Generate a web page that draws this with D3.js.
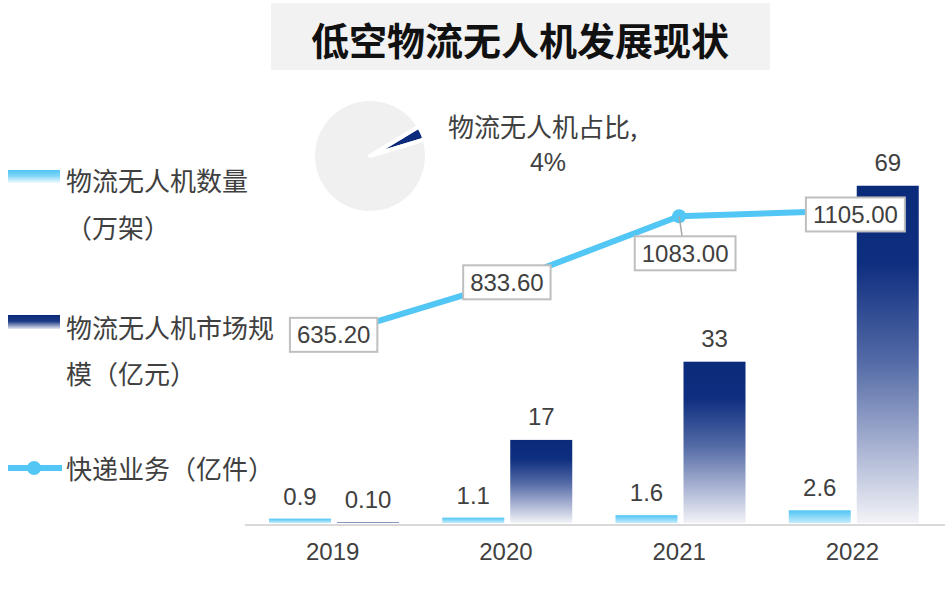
<!DOCTYPE html>
<html><head><meta charset="utf-8">
<script src="https://cdn.jsdelivr.net/npm/d3@7"></script>
<style>
body{margin:0;background:#fff;}
svg{display:block;}
</style></head>
<body>
<svg id="c" width="949" height="612"></svg>
<script>
const years = ["2019","2020","2021","2022"];
const droneCount = [0.9, 1.1, 1.6, 2.6];          // 万架
const marketSize = [0.10, 17, 33, 69];             // 亿元
const marketLabels = ["0.10","17","33","69"];
const countLabels = ["0.9","1.1","1.6","2.6"];
const express = [635.20, 833.60, 1083.00, 1105.00]; // 亿件
const expressLabels = ["635.20","833.60","1083.00","1105.00"];
const pieShare = [4, 96];
const title = "低空物流无人机发展现状";
const legendItems = [["物流无人机数量","（万架）"],["物流无人机市场规","模（亿元）"],["快递业务（亿件）"]];
const pieLabel = ["物流无人机占比,","4%"];

const svg = d3.select("#c");
const CJK = "'Noto Sans CJK SC','Noto Sans',sans-serif";
const NUM = "'Liberation Sans',Arial,sans-serif";
const txt = "#404040";
const lineColor = "#52c6f5";

const defs = svg.append("defs");
const gDark = defs.append("linearGradient").attr("id","gDark").attr("x1",0).attr("y1",0).attr("x2",0).attr("y2",1);
[[0,"#0a2a7a"],[0.23,"#0e2e7f"],[0.52,"#536aa6"],[0.76,"#a3aecf"],[1,"#f2f3f8"]].forEach(s=>gDark.append("stop").attr("offset",s[0]).attr("stop-color",s[1]));
const gLight = defs.append("linearGradient").attr("id","gLight").attr("x1",0).attr("y1",0).attr("x2",0).attr("y2",1);
[[0,"#4fc4f4"],[1,"#c5ecfc"]].forEach(s=>gLight.append("stop").attr("offset",s[0]).attr("stop-color",s[1]));
const gLightLeg = defs.append("linearGradient").attr("id","gLightLeg").attr("x1",0).attr("y1",0).attr("x2",0).attr("y2",1);
[[0,"#4fc4f4"],[0.45,"#7fd5f8"],[1,"#f3fbfe"]].forEach(s=>gLightLeg.append("stop").attr("offset",s[0]).attr("stop-color",s[1]));
const gDarkLeg = defs.append("linearGradient").attr("id","gDarkLeg").attr("x1",0).attr("y1",0).attr("x2",0).attr("y2",1);
[[0,"#0a2a7a"],[0.45,"#1d3a86"],[1,"#e6e9f3"]].forEach(s=>gDarkLeg.append("stop").attr("offset",s[0]).attr("stop-color",s[1]));

// Title
svg.append("rect").attr("x",271).attr("y",3).attr("width",499).attr("height",67).attr("fill","#f2f2f2");
svg.append("text").attr("x",520).attr("y",38).attr("text-anchor","middle").attr("dominant-baseline","central")
  .attr("font-family",CJK).attr("font-weight","bold").attr("font-size",38).attr("fill","#111").text(title);

// Pie
const pieG = svg.append("g").attr("transform","translate(370,156)");
const share = 0.04*2*Math.PI;
const start = 66*Math.PI/180 - share/2;
const pie = d3.pie().sort(null).startAngle(start).endAngle(start+2*Math.PI);
const arc = d3.arc().innerRadius(0).outerRadius(57);
pieG.selectAll("path").data(pie(pieShare)).join("path").attr("d",arc)
  .attr("fill",(d,i)=>i===0?"#0d2b7c":"#f0f0f0").attr("stroke","#fff").attr("stroke-width",4).attr("stroke-linejoin","round");
svg.append("text").attr("x",448).attr("y",125).attr("dominant-baseline","central").attr("font-family",CJK).attr("font-size",26).attr("fill",txt).text(pieLabel[0]);
svg.append("text").attr("x",548).attr("y",162).attr("text-anchor","middle").attr("dominant-baseline","central").attr("font-family",NUM).attr("font-size",25).attr("fill",txt).text(pieLabel[1]);

// Scales
const x = d3.scaleBand().domain(years).range([246,939]);
const xs = d3.scaleBand().domain(["count","market"]).range([23,153]).paddingInner(0.088).paddingOuter(0);
const y = d3.scaleLinear().domain([0,107]).range([523,0]);
const y2 = d3.scaleLinear().domain([0,1900]).range([503,0]);

// Axis
const axis = svg.append("g").attr("transform","translate(0,525)").call(d3.axisBottom(x).tickSize(0).tickPadding(18));
axis.select(".domain").attr("stroke","#d9d9d9").attr("stroke-width",2).attr("d","M245,0H945");
axis.selectAll("text").attr("font-family",NUM).attr("font-size",24).attr("fill",txt);

// Bars
const barsG = svg.append("g");
barsG.selectAll(".bc").data(years).join("rect").attr("class","bc")
  .attr("x",d=>x(d)+xs("count")).attr("width",xs.bandwidth())
  .attr("y",(d,i)=>y(droneCount[i])).attr("height",(d,i)=>y(0)-y(droneCount[i])).attr("fill","url(#gLight)");
barsG.selectAll(".bm").data(years).join("rect").attr("class","bm")
  .attr("x",d=>x(d)+xs("market")).attr("width",xs.bandwidth())
  .attr("y",(d,i)=>y(marketSize[i])).attr("height",(d,i)=>y(0)-y(marketSize[i])).attr("fill","url(#gDark)");
barsG.selectAll(".lc").data(years).join("text").attr("class","lc")
  .attr("x",d=>x(d)+xs("count")+xs.bandwidth()/2).attr("y",(d,i)=>y(droneCount[i])-14)
  .attr("text-anchor","middle").attr("font-family",NUM).attr("font-size",24).attr("fill",txt).text((d,i)=>countLabels[i]);
barsG.selectAll(".lm").data(years).join("text").attr("class","lm")
  .attr("x",d=>x(d)+xs("market")+xs.bandwidth()/2).attr("y",(d,i)=>y(marketSize[i])-15)
  .attr("text-anchor","middle").attr("font-family",NUM).attr("font-size",24).attr("fill",txt).text((d,i)=>marketLabels[i]);

// Line
const cx = d=>x(d)+x.bandwidth()/2;
const line = d3.line().x((d,i)=>cx(years[i])).y(d=>y2(d));
svg.append("path").datum(express).attr("d",line).attr("fill","none").attr("stroke",lineColor).attr("stroke-width",6).attr("stroke-linejoin","round");
svg.selectAll(".mk").data(express).join("circle").attr("class","mk").attr("cx",(d,i)=>cx(years[i])).attr("cy",d=>y2(d)).attr("r",7).attr("fill",lineColor);

// Line labels (offset from points)
const labelOffsets = [[1,0],[1,0],[6,37],[3,4]];
express.forEach((v,i)=>{
  const px = cx(years[i]), py = y2(v);
  const lx = px+labelOffsets[i][0], ly = py+labelOffsets[i][1];
  const g = svg.append("g");
  if (labelOffsets[i][1] > 20) {
    g.append("line").attr("x1",px).attr("y1",py).attr("x2",lx-3).attr("y2",ly-17).attr("stroke","#a6a6a6").attr("stroke-width",1.5);
  }
  const rect = g.append("rect");
  const t = g.append("text").attr("x",lx).attr("y",ly).attr("text-anchor","middle").attr("dominant-baseline","central")
    .attr("font-family",NUM).attr("font-size",24).attr("fill",txt).text(expressLabels[i]);
  const w = t.node().getComputedTextLength()+14;
  rect.attr("x",lx-w/2).attr("y",ly-17).attr("width",w).attr("height",34).attr("fill","#fff").attr("stroke","#bfbfbf").attr("stroke-width",2);
});

// Legend
const lg = svg.append("g");
lg.append("rect").attr("x",8).attr("y",170).attr("width",52).attr("height",13).attr("fill","url(#gLightLeg)");
lg.append("rect").attr("x",8).attr("y",315).attr("width",52).attr("height",14).attr("fill","url(#gDarkLeg)");
lg.append("line").attr("x1",8).attr("x2",62).attr("y1",468).attr("y2",468).attr("stroke",lineColor).attr("stroke-width",6);
lg.append("circle").attr("cx",34).attr("cy",468).attr("r",7).attr("fill",lineColor);
const legY = [[179,226],[326,372],[467]];
legendItems.forEach((lines,i)=>lines.forEach((s,j)=>{
  lg.append("text").attr("x",66).attr("y",legY[i][j]).attr("dominant-baseline","central")
    .attr("font-family",CJK).attr("font-size",26).attr("fill",txt).text(s);
}));
</script>
</body></html>
